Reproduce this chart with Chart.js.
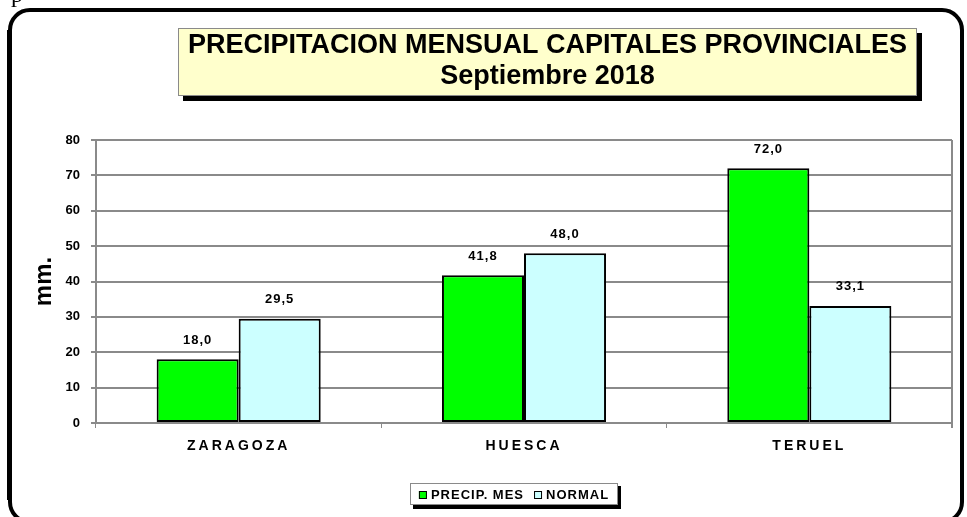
<!DOCTYPE html>
<html>
<head>
<meta charset="utf-8">
<script src="https://cdn.jsdelivr.net/npm/chart.js@4.4.1/dist/chart.umd.min.js"></script>
<style>
  html, body { margin: 0; padding: 0; background: #ffffff; }
  #wrap { position: relative; width: 967px; height: 517px; overflow: hidden; }
  canvas { display: block; }
</style>
</head>
<body>
<div id="wrap"><canvas id="c" width="967" height="517"></canvas></div>
<script>
// ---- data ----
const categories = ['ZARAGOZA', 'HUESCA', 'TERUEL'];
const precipMes = [18.0, 41.8, 72.0];
const normalValues = [29.5, 48.0, 33.1];
const seriesNames = ['PRECIP. MES', 'NORMAL'];
const titleLines = ['PRECIPITACION MENSUAL CAPITALES PROVINCIALES', 'Septiembre 2018'];
const yAxisTitle = 'mm.';
const yMin = 0, yMax = 80, yStep = 10;
const cornerText = 'p';

// ---- styles ----
const GREEN = '#00ff00';
const CYAN = '#ccffff';
const GRID = '#8a8a8a';
const FONT = '"Liberation Sans", Arial, sans-serif';

function fmt(v) { return v.toFixed(1).replace('.', ','); }

const backgroundPlugin = {
  id: 'bgFrameTitle',
  beforeDraw(chart) {
    const ctx = chart.ctx;
    // patch x-axis label drawing for wide letter spacing
    const xs = chart.scales.x;
    if (xs && !xs._patched) {
      const orig = xs.drawLabels.bind(xs);
      xs.drawLabels = function (area) {
        ctx.save(); ctx.letterSpacing = '3px'; orig(area); ctx.restore();
      };
      xs._patched = true;
    }
    ctx.save();
    ctx.fillStyle = '#ffffff';
    ctx.fillRect(0, 0, chart.width, chart.height);
    // corner fragment
    ctx.fillStyle = '#000';
    ctx.font = '24px "Liberation Serif", serif';
    ctx.textBaseline = 'alphabetic';
    ctx.fillText(cornerText, 11, 2);
    // rounded frame
    ctx.strokeStyle = '#000';
    ctx.lineWidth = 4;
    ctx.beginPath();
    ctx.roundRect(10, 10, 952, 512, 20);
    ctx.stroke();
    ctx.lineWidth = 2;
    ctx.beginPath(); ctx.moveTo(8, 30); ctx.lineTo(8, 500); ctx.stroke();
    // title box with shadow
    const bx = 178, by = 28, bw = 739, bh = 68;
    ctx.fillStyle = '#000';
    ctx.fillRect(bx + 5, by + 5, bw, bh);
    ctx.fillStyle = '#ffffcc';
    ctx.fillRect(bx, by, bw, bh);
    ctx.strokeStyle = '#8a8a8a';
    ctx.lineWidth = 1;
    ctx.strokeRect(bx + 0.5, by + 0.5, bw - 1, bh - 1);
    ctx.fillStyle = '#000';
    ctx.textAlign = 'center';
    ctx.textBaseline = 'middle';
    ctx.font = 'bold 27px ' + FONT;
    ctx.fillText(titleLines[0], bx + bw / 2, 46, 725);
    ctx.fillText(titleLines[1], bx + bw / 2, 77, 725);
    ctx.restore();
  },
  afterDraw(chart) {
    const ctx = chart.ctx;
    const a = chart.chartArea;
    ctx.save();
    // right border of plot area
    ctx.strokeStyle = GRID;
    ctx.lineWidth = 2;
    ctx.beginPath(); ctx.moveTo(a.right, a.top); ctx.lineTo(a.right, a.bottom + 5); ctx.stroke();
    // legend
    ctx.font = 'bold 13px ' + FONT;
    ctx.letterSpacing = '1px';
    const colors = [GREEN, CYAN];
    const mk = 8, g1 = 4, g2 = 10;
    const w0 = ctx.measureText(seriesNames[0]).width;
    const w1 = ctx.measureText(seriesNames[1]).width;
    const total = mk + g1 + w0 + g2 + mk + g1 + w1;
    const cx = 514;
    const lx = 410, ly = 483, lw = 208, lh = 22;
    ctx.fillStyle = '#000';
    ctx.fillRect(lx + 3, ly + lh, lw, 4);
    ctx.fillRect(lx + lw, ly + 3, 3, lh);
    ctx.fillStyle = '#fff';
    ctx.fillRect(lx, ly, lw, lh);
    ctx.strokeStyle = '#8a8a8a';
    ctx.lineWidth = 1;
    ctx.strokeRect(lx + 0.5, ly + 0.5, lw - 1, lh - 1);
    let x = cx - total / 2;
    const ty = ly + lh / 2 + 1;
    ctx.textBaseline = 'middle';
    ctx.textAlign = 'left';
    [w0, w1].forEach((w, i) => {
      ctx.fillStyle = colors[i];
      ctx.fillRect(x, ty - mk / 2, mk, mk);
      ctx.strokeStyle = '#000';
      ctx.lineWidth = 1;
      ctx.strokeRect(x + 0.5, ty - mk / 2 + 0.5, mk - 1, mk - 1);
      x += mk + g1;
      ctx.fillStyle = '#000';
      ctx.fillText(seriesNames[i], x, ty);
      x += w + g2;
    });
    ctx.restore();
  },
  afterDatasetsDraw(chart) {
    const ctx = chart.ctx;
    ctx.save();
    ctx.font = 'bold 13px ' + FONT;
    ctx.letterSpacing = '1px';
    ctx.fillStyle = '#000';
    ctx.textAlign = 'center';
    ctx.textBaseline = 'middle';
    chart.data.datasets.forEach((ds, di) => {
      const meta = chart.getDatasetMeta(di);
      meta.data.forEach((bar, i) => {
        ctx.fillText(fmt(ds.data[i]), bar.x, bar.y - 19);
      });
    });
    ctx.restore();
  }
};

new Chart(document.getElementById('c'), {
  type: 'bar',
  data: {
    labels: categories,
    datasets: [
      { label: seriesNames[0], data: precipMes, backgroundColor: GREEN, borderColor: '#000', borderWidth: 2, borderSkipped: false },
      { label: seriesNames[1], data: normalValues, backgroundColor: CYAN, borderColor: '#000', borderWidth: 2, borderSkipped: false }
    ]
  },
  options: {
    responsive: false,
    animation: false,
    devicePixelRatio: 1,
    layout: { padding: { left: 0, right: 15, top: 140, bottom: 54 } },
    datasets: { bar: { categoryPercentage: 0.575, barPercentage: 1.0 } },
    plugins: {
      legend: { display: false },
      title: { display: false },
      tooltip: { enabled: false }
    },
    scales: {
      x: {
        offset: true,
        grid: { display: true, drawOnChartArea: false, drawTicks: true, tickLength: 5, color: GRID, lineWidth: 1 },
        border: { display: true, color: GRID, width: 2 },
        ticks: { color: '#000', font: { family: FONT, weight: 'bold', size: 14 }, padding: 10 },
        afterFit(s) { s.height = 40; }
      },
      y: {
        min: yMin, max: yMax,
        ticks: { stepSize: yStep, color: '#000', font: { family: FONT, weight: 'bold', size: 13 }, padding: 11 },
        grid: { color: GRID, lineWidth: 2, drawTicks: true, tickLength: 5 },
        border: { display: true, color: GRID, width: 2 },
        title: { display: true, text: yAxisTitle, color: '#000', font: { family: FONT, weight: 'bold', size: 24 }, padding: { top: 30, bottom: 0 } },
        afterFit(s) { s.width = 96; }
      }
    }
  },
  plugins: [backgroundPlugin]
});
</script>
</body>
</html>
